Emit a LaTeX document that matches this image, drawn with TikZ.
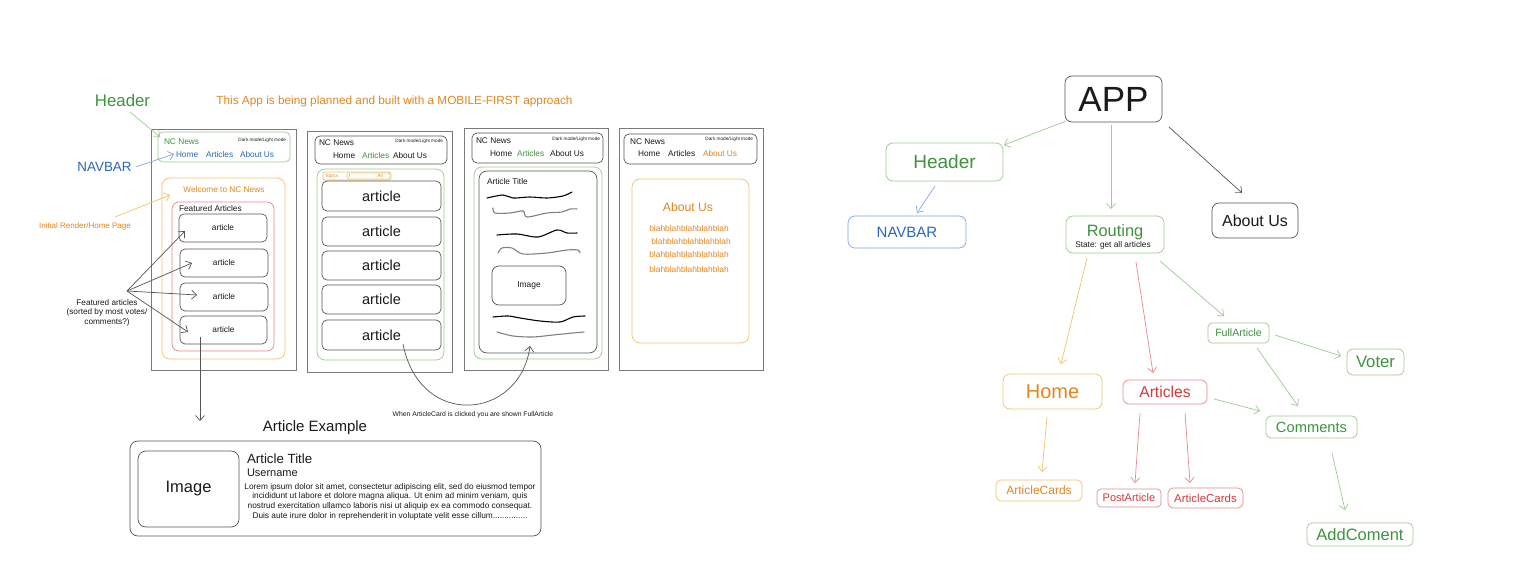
\documentclass[tikz,border=0pt]{standalone}
\usepackage{fontspec}
\setmainfont{Liberation Sans}
\usetikzlibrary{arrows.meta,fit}
\definecolor{gtxt}{HTML}{3E943E}
\definecolor{gln}{HTML}{9CCB94}
\definecolor{otxt}{HTML}{E3861F}
\definecolor{oln}{HTML}{F2C26B}
\definecolor{rtxt}{HTML}{D33B3B}
\definecolor{rln}{HTML}{E58A8A}
\definecolor{btxt}{HTML}{2A66C0}
\definecolor{bln}{HTML}{84A9E0}
\definecolor{kln}{HTML}{555555}
\definecolor{sln}{HTML}{7A7A7A}
\definecolor{ktxt}{HTML}{1A1A1A}
\newcommand\fsz[2]{\fontsize{#1}{#2}\selectfont}
\begin{document}
\begin{tikzpicture}[x=1pt,y=-1pt,
 txt/.style={inner sep=0pt,outer sep=0pt,text=ktxt},
 rbox/.style={draw=#1, line width=0.7pt, rounded corners=5pt, inner sep=0pt, outer sep=0pt},
 scr/.style={draw=sln, line width=0.8pt, inner sep=0pt, outer sep=0pt},
 arr/.style={draw=#1, line width=0.7pt, -{Straight Barb[length=5pt,width=9pt]}},
 sq/.style={draw=#1, line width=1.1pt, line cap=round},
 lb/.style={inner sep=0pt, outer sep=0pt, text=ktxt},
]
\useasboundingbox (0,0) rectangle (1531,585);
\fill[white] (0,0) rectangle (1531,585);

% ---------- top texts ----------
\node[txt, text=gtxt, font=\fsz{16.8}{18}] (HdrL) at (122.5,100) {Header};
\node[txt, text=otxt, font=\fsz{11.8}{13}] (Plan) at (394.5,101) {This App is being planned and built with a MOBILE-FIRST approach};
\node[txt, text=btxt, font=\fsz{13.4}{15}] (NavL) at (104.5,167) {NAVBAR};
\node[txt, text=otxt, font=\fsz{8}{9}] (InitL) at (85,226) {Initial Render/Home Page};
\node[txt, align=center, font=\fsz{8.2}{9.5}] (FAL) at (107,312.5) {Featured articles\\(sorted by most votes/\\comments?)};

% ---------- screen 1 ----------
\node[scr, fit={(151,129)(296,370)}] (S1) {};
\node[rbox=gln, fit={(158,132)(290,162)}] (S1h) {};
\node[txt, anchor=west, text=gtxt, font=\fsz{8.3}{10}] (S1nc) at (164,142) {NC News};
\node[txt, anchor=east, font=\fsz{4.7}{5}] (S1dm) at (286,140) {Dark mode/Light mode};
\node[txt, anchor=west, text=btxt, font=\fsz{8.3}{10}] (S1n1) at (176,155) {Home};
\node[txt, anchor=west, text=btxt, font=\fsz{8.3}{10}] (S1n2) at (206,155) {Articles};
\node[txt, anchor=west, text=btxt, font=\fsz{8.3}{10}] (S1n3) at (240,155) {About Us};
\node[rbox=oln, rounded corners=8pt, fit={(162,178)(285,359)}] (S1o) {};
\node[txt, text=otxt, font=\fsz{8.3}{10}] (S1w) at (224,190) {Welcome to NC News};
\node[rbox=rln, rounded corners=7pt, fit={(172,202)(274,351)}] (S1r) {};
\node[txt, anchor=west, font=\fsz{8.3}{10}] (S1fa) at (179,209) {Featured Articles};
\node[rbox=kln, fit={(179,214)(267,242)}, label={[lb, font=\fsz{8.3}{10}]center:article}] (S1a1) {};
\node[rbox=kln, fit={(180,249)(268,277)}, label={[lb, font=\fsz{8.3}{10}]center:article}] (S1a2) {};
\node[rbox=kln, fit={(180,283)(268,311)}, label={[lb, font=\fsz{8.3}{10}]center:article}] (S1a3) {};
\node[rbox=kln, fit={(180,316)(267,344)}, label={[lb, font=\fsz{8.3}{10}]center:article}] (S1a4) {};

\coordinate (HdrSrc) at (130,112);
\draw[arr=gln] (HdrSrc) -- ([shift={(2,5)}]S1h.north west);
\draw[arr=bln] ([shift={(4,0)}]NavL.east) -- ([shift={(-2,-1)}]S1n1.west);
\coordinate (InitSrc) at (115,217);
\draw[arr=oln] (InitSrc) -- ([shift={(8,17)}]S1o.north west);
\coordinate (FASrc) at (127,291);
\draw[arr=kln] (FASrc) -- ([shift={(6,3)}]S1a1.west);
\draw[arr=kln] (FASrc) -- ([shift={(12,0)}]S1a2.west);
\draw[arr=kln] (FASrc) -- ([shift={(17,-2)}]S1a3.west);
\draw[arr=kln] (FASrc) -- ([shift={(8,2)}]S1a4.west);
\coordinate (AEin) at (200,421);
\draw[arr=kln] ([shift={(-23.5,-7)}]S1a4.south) -- (AEin);

% ---------- screen 2 ----------
\node[scr, fit={(307,131)(452,372)}] (S2) {};
\node[rbox=kln, fit={(315,136)(447,164)}] (S2h) {};
\node[txt, anchor=west, font=\fsz{8.3}{10}] (S2nc) at (319,143) {NC News};
\node[txt, anchor=east, font=\fsz{4.7}{5}] (S2dm) at (443,141) {Dark mode/Light mode};
\node[txt, anchor=west, font=\fsz{8.3}{10}] (S2n1) at (333,156) {Home};
\node[txt, anchor=west, text=gtxt, font=\fsz{8.3}{10}] (S2n2) at (362,156) {Articles};
\node[txt, anchor=west, font=\fsz{8.3}{10}] (S2n3) at (393,156) {About Us};
\node[rbox=gln, rounded corners=8pt, fit={(317,169)(444,360)}] (S2g) {};
\node[rbox=oln, rounded corners=2pt, fit={(323,172)(391,180)}] (S2t) {};
\node[txt, anchor=west, text=otxt, font=\fsz{4.7}{5}] (S2tl) at (325,176) {Topics};
\node[rbox=oln, rounded corners=1.5pt, fit={(347,173)(390,179)}] (S2ts) {};
\node[txt, text=otxt, font=\fsz{4.7}{5}] (S2all) at (380,176) {All};
\draw[oln, line width=0.5pt] (349.5,174.5) -- (349.5,177.5);
\node[rbox=kln, fit={(322,181)(441,211)}, label={[lb, font=\fsz{14.5}{16}]center:article}] (S2a1) {};
\node[rbox=kln, fit={(322,217)(441,246)}, label={[lb, font=\fsz{14.5}{16}]center:article}] (S2a2) {};
\node[rbox=kln, fit={(322,251)(441,280)}, label={[lb, font=\fsz{14.5}{16}]center:article}] (S2a3) {};
\node[rbox=kln, fit={(322,285)(441,314)}, label={[lb, font=\fsz{14.5}{16}]center:article}] (S2a4) {};
\node[rbox=kln, fit={(322,320)(441,350)}, label={[lb, font=\fsz{14.5}{16}]center:article}] (S2a5) {};

% ---------- screen 3 ----------
\node[scr, fit={(464,128)(608,370)}] (S3) {};
\node[rbox=kln, fit={(472,133)(603,163)}] (S3h) {};
\node[txt, anchor=west, font=\fsz{8.3}{10}] (S3nc) at (476,141) {NC News};
\node[txt, anchor=east, font=\fsz{4.7}{5}] (S3dm) at (600,139) {Dark mode/Light mode};
\node[txt, anchor=west, font=\fsz{8.3}{10}] (S3n1) at (490,154) {Home};
\node[txt, anchor=west, text=gtxt, font=\fsz{8.3}{10}] (S3n2) at (517,154) {Articles};
\node[txt, anchor=west, font=\fsz{8.3}{10}] (S3n3) at (550,154) {About Us};
\node[rbox=gln, rounded corners=8pt, fit={(474,167)(602,359)}] (S3g) {};
\node[rbox=kln, rounded corners=8pt, fit={(479,171)(597,353)}] (S3in) {};
\node[txt, anchor=west, font=\fsz{8.3}{10}] (S3at) at (487,182) {Article Title};
\draw[sq=black] plot[smooth] coordinates {(487,198) (503,195) (513,198) (530,197) (547,198) (563,196) (572,192)};
\draw[sq=gray] plot[smooth] coordinates {(493,208) (495,213) (510,213) (523,211) (527,217) (547,213) (562,212) (570,209) (577,209)};
\draw[sq=black] plot[smooth] coordinates {(497,235) (517,234) (538,237) (557,230) (567,233) (577,233)};
\draw[sq=gray] plot[smooth] coordinates {(498,253) (502,248) (512,248) (523,254) (547,253) (567,250) (578,250) (580,253)};
\node[rbox=kln, rounded corners=7pt, fit={(492,266)(566,305)}, label={[lb, font=\fsz{8.4}{10}]center:Image}] (S3img) {};
\draw[sq=black] plot[smooth] coordinates {(493,317) (508,316) (520,318) (540,321) (560,322) (573,317) (585,316)};
\draw[sq=gray] plot[smooth] coordinates {(497,332) (513,336) (533,337) (553,335) (573,333) (584,332)};

% click arrow
\draw[arr=kln] ([shift={(21.5,-6)}]S2a5.south) .. controls (420,430) and (520,420) .. ([shift={(-8,-7)}]S3in.south);
\node[txt, font=\fsz{6.8}{8}] (ClickL) at (473,415) {When ArticleCard is clicked you are shown FullArticle};

% ---------- screen 4 ----------
\node[scr, fit={(619,128)(763,370)}] (S4) {};
\node[rbox=kln, fit={(624,134)(757,164)}] (S4h) {};
\node[txt, anchor=west, font=\fsz{8.3}{10}] (S4nc) at (630,142) {NC News};
\node[txt, anchor=east, font=\fsz{4.7}{5}] (S4dm) at (753,139) {Dark mode/Light mode};
\node[txt, anchor=west, font=\fsz{8.3}{10}] (S4n1) at (638,154) {Home};
\node[txt, anchor=west, font=\fsz{8.3}{10}] (S4n2) at (668,154) {Articles};
\node[txt, anchor=west, text=otxt, font=\fsz{8.3}{10}] (S4n3) at (703,154) {About Us};
\node[rbox=oln, rounded corners=8pt, fit={(632,179)(749,343)}] (S4o) {};
\node[txt, text=otxt, font=\fsz{12.2}{14}] (S4ab) at (688,207) {About Us};
\node[txt, text=otxt, font=\fsz{8.4}{10}] (S4b1) at (689,228) {blahblahblahblahblah};
\node[txt, text=otxt, font=\fsz{8.4}{10}] (S4b2) at (691,241) {blahblahblahblahblah};
\node[txt, text=otxt, font=\fsz{8.4}{10}] (S4b3) at (689,254) {blahblahblahblahblah};
\node[txt, text=otxt, font=\fsz{8.4}{10}] (S4b4) at (689,269) {blahblahblahblahblah};

% ---------- article example ----------
\node[txt, font=\fsz{15}{17}] (AEt) at (315,428) {Article Example};
\node[rbox=kln, rounded corners=8pt, fit={(130,441)(541,536)}] (AE) {};
\node[rbox=kln, rounded corners=8pt, fit={(138,451)(239,527)}, label={[lb, font=\fsz{16.5}{18}]center:Image}] (AEimg) {};
\node[txt, anchor=west, font=\fsz{13.3}{15}] (AEtitle) at (247,459) {Article Title};
\node[txt, anchor=west, font=\fsz{11}{13}] (AEuser) at (247,473) {Username};
\node[txt, align=center, font=\fsz{8.3}{9.7}] (AEbody) at (390,501.5) {Lorem ipsum dolor sit amet, consectetur adipiscing elit, sed do eiusmod tempor\\incididunt ut labore et dolore magna aliqua. Ut enim ad minim veniam, quis\\nostrud exercitation ullamco laboris nisi ut aliquip ex ea commodo consequat.\\Duis aute irure dolor in reprehenderit in voluptate velit esse cillum...............};

% ---------- component tree ----------
\node[rbox=kln, rounded corners=7pt, fit={(1065,76)(1162,122)}, label={[lb, font=\fsz{35}{38}]center:APP}] (APP) {};
\node[rbox=gln, rounded corners=7pt, fit={(886,143)(1003,181)}, label={[lb, text=gtxt, font=\fsz{19}{21}]center:Header}] (Header) {};
\node[rbox=bln, rounded corners=7pt, fit={(848,216)(966,248)}, label={[lb, text=btxt, font=\fsz{15}{17}]center:NAVBAR}] (NAVBAR) {};
\node[rbox=gln, rounded corners=7pt, fit={(1066,216)(1164,253)}] (Routing) {};
\node[txt, text=gtxt, font=\fsz{16.4}{18}] (RoutingT) at (1115,232) {Routing};
\node[txt, font=\fsz{8.3}{10}] (RoutingS) at (1113,245) {State: get all articles};
\node[rbox=kln, rounded corners=7pt, fit={(1212,203)(1298,238)}, label={[lb, font=\fsz{16}{18}]center:About Us}] (AboutR) {};
\node[rbox=gln, rounded corners=4pt, fit={(1208,323)(1269,343)}, label={[lb, text=gtxt, font=\fsz{10.6}{12}]center:FullArticle}] (FullArticle) {};
\node[rbox=gln, rounded corners=6pt, fit={(1347,349)(1404,375)}, label={[lb, text=gtxt, font=\fsz{16.7}{18}]center:Voter}] (Voter) {};
\node[rbox=oln, rounded corners=7pt, fit={(1003,374)(1102,409)}, label={[lb, text=otxt, font=\fsz{20}{22}]center:Home}] (Home) {};
\node[rbox=rln, rounded corners=6pt, fit={(1123,380)(1207,404)}, label={[lb, text=rtxt, font=\fsz{15.7}{17}]center:Articles}] (Articles) {};
\node[rbox=gln, rounded corners=5pt, fit={(1266,416)(1357,438)}, label={[lb, text=gtxt, font=\fsz{14.7}{16}]center:Comments}] (Comments) {};
\node[rbox=oln, rounded corners=5pt, fit={(996,480)(1082,501)}, label={[lb, text=otxt, font=\fsz{12}{14}]center:ArticleCards}] (ACards) {};
\node[rbox=rln, rounded corners=4pt, fit={(1097,489)(1161,507)}, label={[lb, text=rtxt, font=\fsz{11}{13}]center:PostArticle}] (PostArticle) {};
\node[rbox=rln, rounded corners=5pt, fit={(1168,488)(1243,508)}, label={[lb, text=rtxt, font=\fsz{11.5}{13}]center:ArticleCards}] (ACards2) {};
\node[rbox=gln, rounded corners=5pt, fit={(1307,523)(1413,546)}, label={[lb, text=gtxt, font=\fsz{16.5}{18}]center:AddComent}] (AddComent) {};

\draw[arr=gln] ([shift={(1,-1)}]APP.south west) -- ([shift={(1,2)}]Header.north east);
\draw[arr=gln] ([shift={(-2.5,3)}]APP.south) -- ([shift={(-4,-7)}]Routing.north);
\draw[arr=kln] ([shift={(7,5)}]APP.south east) -- ([shift={(-13,-10)}]AboutR.north);
\draw[arr=bln] ([shift={(-9.5,5)}]Header.south) -- ([shift={(10,-3)}]NAVBAR.north);
\draw[arr=oln] ([shift={(-28,5)}]Routing.south) -- ([shift={(8.5,-10)}]Home.north);
\draw[arr=rln] ([shift={(21,9)}]Routing.south) -- ([shift={(-12,-7)}]Articles.north);
\draw[arr=gln] ([shift={(-4,8)}]Routing.south east) -- ([shift={(-14.5,-7)}]FullArticle.north);
\draw[arr=gln] ([shift={(6,2)}]FullArticle.east) -- ([shift={(-6,-6)}]Voter.west);
\draw[arr=gln] ([shift={(18.5,5)}]FullArticle.south) -- ([shift={(-13.5,-10)}]Comments.north);
\draw[arr=gln] ([shift={(7,7)}]Articles.east) -- ([shift={(-6,-5)}]Comments.north west);
\draw[arr=oln] ([shift={(-5.5,8)}]Home.south) -- ([shift={(3,-8)}]ACards.north);
\draw[arr=rln] ([shift={(-25,9)}]Articles.south) -- ([shift={(6,-6)}]PostArticle.north);
\draw[arr=rln] ([shift={(20,9)}]Articles.south) -- ([shift={(-15.5,-5)}]ACards2.north);
\draw[arr=gln] ([shift={(20.5,15)}]Comments.south) -- ([shift={(-15,-13)}]AddComent.north);
\end{tikzpicture}
\end{document}
